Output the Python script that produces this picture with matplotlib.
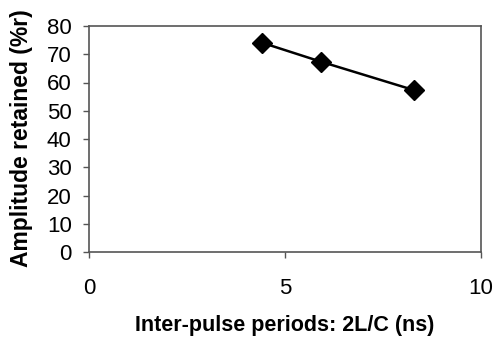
import matplotlib
matplotlib.use("Agg")
import matplotlib.pyplot as plt

periods = [4.41, 5.91, 8.29]
amplitude = [74.1, 67.4, 57.3]
x_ticks = [0, 5, 10]
y_ticks = [0, 10, 20, 30, 40, 50, 60, 70, 80]

plt.rcParams['font.family'] = ['Liberation Sans', 'DejaVu Sans']

fig = plt.figure(figsize=(4.96, 3.37), dpi=100)
ax = fig.add_axes([89/496, 1-252/337, (481-89)/496, (252-26)/337])

ax.plot(periods, amplitude, color='black', lw=1.8, marker='D', markersize=10,
        markerfacecolor='black', markeredgecolor='black')

ax.set_xlim(0, 10)
ax.set_ylim(0, 80)
ax.set_xticks(x_ticks)
ax.set_yticks(y_ticks)
for s in ax.spines.values():
    s.set_color('#555555')
    s.set_linewidth(1.2)
ax.tick_params(direction='out', length=4.5, width=1, color='#555555', labelsize=16)
ax.tick_params(axis='x', pad=14)
ax.tick_params(axis='y', pad=8)

ax.set_xlabel('Inter-pulse periods: 2L/C (ns)', fontsize=15.5, fontweight='bold', va='center')
ax.xaxis.set_label_coords((285-89)/392, (252-326)/226)
ax.set_ylabel('Amplitude retained (%r)', fontsize=16.5, fontweight='bold', va='center')
ax.yaxis.set_label_coords((22-89)/392, (252-138)/226)

fig.savefig('out.png', dpi=100)
